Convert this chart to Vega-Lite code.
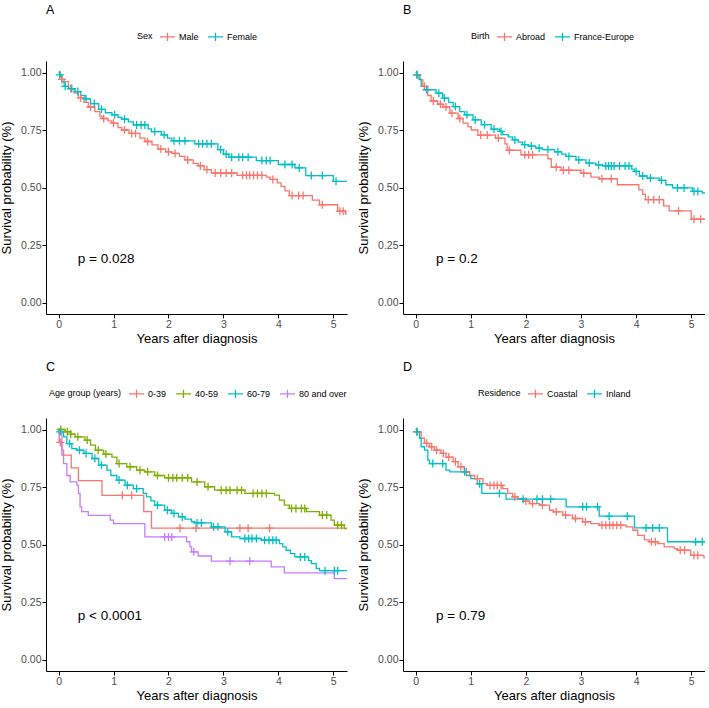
{
  "$schema": "https://vega.github.io/schema/vega-lite/v6.json",
  "padding": {"left": 0, "top": 3, "right": 0, "bottom": 0},
  "background": "white",
  "columns": 2,
  "spacing": {"row": 14, "column": 10},
  "resolve": {"scale": {"color": "independent"}},
  "datasets": {
    "A": [
      {"g":"Male","t":0,"s":1,"c":0},{"g":"Male","t":0.03,"s":0.98,"c":0},{"g":"Male","t":0.06,"s":0.97,"c":1},{"g":"Male","t":0.1,"s":0.96,"c":0},{"g":"Male","t":0.18,"s":0.93,"c":0},{"g":"Male","t":0.22,"s":0.93,"c":1},{"g":"Male","t":0.28,"s":0.91,"c":0},{"g":"Male","t":0.36,"s":0.89,"c":0},{"g":"Male","t":0.4,"s":0.89,"c":1},{"g":"Male","t":0.46,"s":0.87,"c":0},{"g":"Male","t":0.54,"s":0.85,"c":0},{"g":"Male","t":0.58,"s":0.85,"c":1},{"g":"Male","t":0.66,"s":0.83,"c":0},{"g":"Male","t":0.75,"s":0.81,"c":0},{"g":"Male","t":0.79,"s":0.8,"c":0},{"g":"Male","t":0.82,"s":0.8,"c":1},{"g":"Male","t":0.9,"s":0.79,"c":0},{"g":"Male","t":0.97,"s":0.78,"c":0},{"g":"Male","t":1.0,"s":0.78,"c":1},{"g":"Male","t":1.08,"s":0.76,"c":0},{"g":"Male","t":1.15,"s":0.75,"c":0},{"g":"Male","t":1.2,"s":0.75,"c":1},{"g":"Male","t":1.28,"s":0.735,"c":0},{"g":"Male","t":1.33,"s":0.735,"c":1},{"g":"Male","t":1.4,"s":0.735,"c":1},{"g":"Male","t":1.48,"s":0.715,"c":0},{"g":"Male","t":1.57,"s":0.7,"c":0},{"g":"Male","t":1.62,"s":0.7,"c":1},{"g":"Male","t":1.7,"s":0.685,"c":0},{"g":"Male","t":1.81,"s":0.667,"c":0},{"g":"Male","t":1.86,"s":0.667,"c":1},{"g":"Male","t":1.95,"s":0.655,"c":0},{"g":"Male","t":2.0,"s":0.655,"c":1},{"g":"Male","t":2.06,"s":0.648,"c":0},{"g":"Male","t":2.12,"s":0.648,"c":1},{"g":"Male","t":2.2,"s":0.635,"c":0},{"g":"Male","t":2.3,"s":0.62,"c":0},{"g":"Male","t":2.35,"s":0.62,"c":1},{"g":"Male","t":2.45,"s":0.605,"c":0},{"g":"Male","t":2.54,"s":0.594,"c":0},{"g":"Male","t":2.58,"s":0.594,"c":1},{"g":"Male","t":2.65,"s":0.578,"c":0},{"g":"Male","t":2.7,"s":0.578,"c":1},{"g":"Male","t":2.78,"s":0.563,"c":0},{"g":"Male","t":2.85,"s":0.563,"c":1},{"g":"Male","t":2.95,"s":0.563,"c":1},{"g":"Male","t":3.05,"s":0.563,"c":1},{"g":"Male","t":3.15,"s":0.563,"c":1},{"g":"Male","t":3.25,"s":0.553,"c":0},{"g":"Male","t":3.35,"s":0.553,"c":1},{"g":"Male","t":3.42,"s":0.553,"c":1},{"g":"Male","t":3.48,"s":0.553,"c":1},{"g":"Male","t":3.55,"s":0.553,"c":1},{"g":"Male","t":3.62,"s":0.553,"c":1},{"g":"Male","t":3.7,"s":0.553,"c":1},{"g":"Male","t":3.78,"s":0.545,"c":0},{"g":"Male","t":3.85,"s":0.535,"c":0},{"g":"Male","t":3.9,"s":0.535,"c":1},{"g":"Male","t":3.98,"s":0.52,"c":0},{"g":"Male","t":4.05,"s":0.505,"c":0},{"g":"Male","t":4.12,"s":0.485,"c":0},{"g":"Male","t":4.2,"s":0.465,"c":0},{"g":"Male","t":4.25,"s":0.465,"c":1},{"g":"Male","t":4.37,"s":0.465,"c":1},{"g":"Male","t":4.45,"s":0.465,"c":1},{"g":"Male","t":4.62,"s":0.445,"c":0},{"g":"Male","t":4.75,"s":0.425,"c":0},{"g":"Male","t":4.8,"s":0.425,"c":1},{"g":"Male","t":5.08,"s":0.397,"c":0},{"g":"Male","t":5.12,"s":0.397,"c":1},{"g":"Male","t":5.18,"s":0.397,"c":1},{"g":"Male","t":5.22,"s":0.385,"c":0},{"g":"Male","t":5.25,"s":0.385,"c":0},
      {"g":"Female","t":0,"s":1,"c":0},{"g":"Female","t":0.02,"s":0.99,"c":1},{"g":"Female","t":0.06,"s":0.96,"c":0},{"g":"Female","t":0.1,"s":0.94,"c":0},{"g":"Female","t":0.12,"s":0.94,"c":1},{"g":"Female","t":0.18,"s":0.93,"c":0},{"g":"Female","t":0.24,"s":0.93,"c":1},{"g":"Female","t":0.3,"s":0.917,"c":0},{"g":"Female","t":0.35,"s":0.917,"c":1},{"g":"Female","t":0.4,"s":0.9,"c":0},{"g":"Female","t":0.48,"s":0.885,"c":0},{"g":"Female","t":0.5,"s":0.885,"c":1},{"g":"Female","t":0.58,"s":0.865,"c":0},{"g":"Female","t":0.65,"s":0.865,"c":1},{"g":"Female","t":0.73,"s":0.84,"c":0},{"g":"Female","t":0.78,"s":0.84,"c":1},{"g":"Female","t":0.85,"s":0.825,"c":0},{"g":"Female","t":0.97,"s":0.816,"c":0},{"g":"Female","t":1.02,"s":0.816,"c":1},{"g":"Female","t":1.08,"s":0.805,"c":0},{"g":"Female","t":1.15,"s":0.797,"c":0},{"g":"Female","t":1.2,"s":0.797,"c":1},{"g":"Female","t":1.27,"s":0.785,"c":0},{"g":"Female","t":1.36,"s":0.772,"c":0},{"g":"Female","t":1.42,"s":0.772,"c":1},{"g":"Female","t":1.5,"s":0.772,"c":1},{"g":"Female","t":1.57,"s":0.772,"c":1},{"g":"Female","t":1.63,"s":0.755,"c":0},{"g":"Female","t":1.69,"s":0.743,"c":0},{"g":"Female","t":1.75,"s":0.743,"c":1},{"g":"Female","t":1.87,"s":0.729,"c":0},{"g":"Female","t":1.92,"s":0.729,"c":1},{"g":"Female","t":1.98,"s":0.715,"c":0},{"g":"Female","t":2.06,"s":0.703,"c":0},{"g":"Female","t":2.1,"s":0.703,"c":1},{"g":"Female","t":2.2,"s":0.703,"c":1},{"g":"Female","t":2.3,"s":0.703,"c":1},{"g":"Female","t":2.48,"s":0.69,"c":0},{"g":"Female","t":2.55,"s":0.69,"c":1},{"g":"Female","t":2.62,"s":0.69,"c":1},{"g":"Female","t":2.7,"s":0.69,"c":1},{"g":"Female","t":2.78,"s":0.69,"c":1},{"g":"Female","t":2.9,"s":0.665,"c":0},{"g":"Female","t":2.95,"s":0.665,"c":1},{"g":"Female","t":3.0,"s":0.645,"c":0},{"g":"Female","t":3.05,"s":0.645,"c":1},{"g":"Female","t":3.1,"s":0.632,"c":0},{"g":"Female","t":3.15,"s":0.632,"c":1},{"g":"Female","t":3.28,"s":0.632,"c":1},{"g":"Female","t":3.35,"s":0.632,"c":1},{"g":"Female","t":3.45,"s":0.632,"c":1},{"g":"Female","t":3.6,"s":0.617,"c":0},{"g":"Female","t":3.7,"s":0.617,"c":1},{"g":"Female","t":3.78,"s":0.617,"c":1},{"g":"Female","t":3.85,"s":0.617,"c":1},{"g":"Female","t":4.0,"s":0.6,"c":0},{"g":"Female","t":4.12,"s":0.6,"c":1},{"g":"Female","t":4.25,"s":0.6,"c":1},{"g":"Female","t":4.3,"s":0.585,"c":0},{"g":"Female","t":4.38,"s":0.585,"c":1},{"g":"Female","t":4.5,"s":0.552,"c":0},{"g":"Female","t":4.6,"s":0.552,"c":1},{"g":"Female","t":4.8,"s":0.552,"c":1},{"g":"Female","t":5.0,"s":0.527,"c":0},{"g":"Female","t":5.05,"s":0.527,"c":1},{"g":"Female","t":5.25,"s":0.527,"c":0}
    ],
    "B": [
      {"g":"Abroad","t":0,"s":1,"c":0},{"g":"Abroad","t":0.03,"s":0.99,"c":1},{"g":"Abroad","t":0.08,"s":0.968,"c":0},{"g":"Abroad","t":0.13,"s":0.94,"c":0},{"g":"Abroad","t":0.16,"s":0.94,"c":1},{"g":"Abroad","t":0.22,"s":0.9,"c":0},{"g":"Abroad","t":0.28,"s":0.876,"c":0},{"g":"Abroad","t":0.32,"s":0.876,"c":1},{"g":"Abroad","t":0.4,"s":0.862,"c":0},{"g":"Abroad","t":0.45,"s":0.862,"c":1},{"g":"Abroad","t":0.49,"s":0.85,"c":0},{"g":"Abroad","t":0.55,"s":0.85,"c":1},{"g":"Abroad","t":0.62,"s":0.823,"c":0},{"g":"Abroad","t":0.66,"s":0.823,"c":1},{"g":"Abroad","t":0.77,"s":0.8,"c":0},{"g":"Abroad","t":0.8,"s":0.8,"c":1},{"g":"Abroad","t":0.86,"s":0.78,"c":0},{"g":"Abroad","t":0.95,"s":0.765,"c":0},{"g":"Abroad","t":1.01,"s":0.75,"c":0},{"g":"Abroad","t":1.13,"s":0.728,"c":0},{"g":"Abroad","t":1.18,"s":0.728,"c":1},{"g":"Abroad","t":1.3,"s":0.728,"c":1},{"g":"Abroad","t":1.45,"s":0.715,"c":0},{"g":"Abroad","t":1.5,"s":0.715,"c":1},{"g":"Abroad","t":1.62,"s":0.69,"c":0},{"g":"Abroad","t":1.66,"s":0.662,"c":0},{"g":"Abroad","t":1.7,"s":0.662,"c":1},{"g":"Abroad","t":1.91,"s":0.642,"c":0},{"g":"Abroad","t":1.98,"s":0.642,"c":1},{"g":"Abroad","t":2.05,"s":0.642,"c":1},{"g":"Abroad","t":2.12,"s":0.642,"c":1},{"g":"Abroad","t":2.4,"s":0.625,"c":0},{"g":"Abroad","t":2.46,"s":0.588,"c":0},{"g":"Abroad","t":2.55,"s":0.588,"c":1},{"g":"Abroad","t":2.64,"s":0.575,"c":0},{"g":"Abroad","t":2.68,"s":0.575,"c":1},{"g":"Abroad","t":2.78,"s":0.575,"c":1},{"g":"Abroad","t":3.0,"s":0.562,"c":0},{"g":"Abroad","t":3.05,"s":0.562,"c":1},{"g":"Abroad","t":3.18,"s":0.545,"c":0},{"g":"Abroad","t":3.33,"s":0.538,"c":0},{"g":"Abroad","t":3.38,"s":0.538,"c":1},{"g":"Abroad","t":3.55,"s":0.538,"c":1},{"g":"Abroad","t":3.66,"s":0.512,"c":0},{"g":"Abroad","t":4.05,"s":0.49,"c":0},{"g":"Abroad","t":4.12,"s":0.47,"c":0},{"g":"Abroad","t":4.17,"s":0.447,"c":0},{"g":"Abroad","t":4.22,"s":0.447,"c":1},{"g":"Abroad","t":4.32,"s":0.447,"c":1},{"g":"Abroad","t":4.42,"s":0.447,"c":1},{"g":"Abroad","t":4.5,"s":0.42,"c":0},{"g":"Abroad","t":4.6,"s":0.398,"c":0},{"g":"Abroad","t":4.77,"s":0.398,"c":1},{"g":"Abroad","t":5.0,"s":0.362,"c":0},{"g":"Abroad","t":5.05,"s":0.362,"c":1},{"g":"Abroad","t":5.17,"s":0.362,"c":1},{"g":"Abroad","t":5.25,"s":0.362,"c":0},
      {"g":"France-Europe","t":0,"s":1,"c":0},{"g":"France-Europe","t":0.02,"s":0.99,"c":1},{"g":"France-Europe","t":0.06,"s":0.97,"c":0},{"g":"France-Europe","t":0.1,"s":0.94,"c":0},{"g":"France-Europe","t":0.16,"s":0.925,"c":0},{"g":"France-Europe","t":0.2,"s":0.925,"c":1},{"g":"France-Europe","t":0.37,"s":0.91,"c":0},{"g":"France-Europe","t":0.42,"s":0.91,"c":1},{"g":"France-Europe","t":0.49,"s":0.889,"c":0},{"g":"France-Europe","t":0.52,"s":0.889,"c":1},{"g":"France-Europe","t":0.6,"s":0.87,"c":0},{"g":"France-Europe","t":0.68,"s":0.852,"c":0},{"g":"France-Europe","t":0.72,"s":0.852,"c":1},{"g":"France-Europe","t":0.8,"s":0.83,"c":0},{"g":"France-Europe","t":0.89,"s":0.816,"c":0},{"g":"France-Europe","t":0.93,"s":0.816,"c":1},{"g":"France-Europe","t":1.04,"s":0.794,"c":0},{"g":"France-Europe","t":1.08,"s":0.794,"c":1},{"g":"France-Europe","t":1.19,"s":0.773,"c":0},{"g":"France-Europe","t":1.25,"s":0.773,"c":1},{"g":"France-Europe","t":1.37,"s":0.754,"c":0},{"g":"France-Europe","t":1.42,"s":0.754,"c":1},{"g":"France-Europe","t":1.52,"s":0.744,"c":0},{"g":"France-Europe","t":1.55,"s":0.744,"c":1},{"g":"France-Europe","t":1.58,"s":0.73,"c":0},{"g":"France-Europe","t":1.68,"s":0.72,"c":0},{"g":"France-Europe","t":1.76,"s":0.707,"c":0},{"g":"France-Europe","t":1.8,"s":0.707,"c":1},{"g":"France-Europe","t":1.86,"s":0.697,"c":0},{"g":"France-Europe","t":1.94,"s":0.686,"c":0},{"g":"France-Europe","t":1.98,"s":0.686,"c":1},{"g":"France-Europe","t":2.05,"s":0.68,"c":0},{"g":"France-Europe","t":2.1,"s":0.68,"c":1},{"g":"France-Europe","t":2.18,"s":0.671,"c":0},{"g":"France-Europe","t":2.24,"s":0.671,"c":1},{"g":"France-Europe","t":2.3,"s":0.665,"c":0},{"g":"France-Europe","t":2.4,"s":0.665,"c":1},{"g":"France-Europe","t":2.52,"s":0.655,"c":0},{"g":"France-Europe","t":2.58,"s":0.655,"c":1},{"g":"France-Europe","t":2.65,"s":0.645,"c":0},{"g":"France-Europe","t":2.73,"s":0.635,"c":0},{"g":"France-Europe","t":2.78,"s":0.635,"c":1},{"g":"France-Europe","t":2.91,"s":0.62,"c":0},{"g":"France-Europe","t":2.96,"s":0.62,"c":1},{"g":"France-Europe","t":3.09,"s":0.606,"c":0},{"g":"France-Europe","t":3.15,"s":0.606,"c":1},{"g":"France-Europe","t":3.27,"s":0.598,"c":0},{"g":"France-Europe","t":3.32,"s":0.598,"c":1},{"g":"France-Europe","t":3.39,"s":0.594,"c":0},{"g":"France-Europe","t":3.45,"s":0.594,"c":1},{"g":"France-Europe","t":3.5,"s":0.594,"c":1},{"g":"France-Europe","t":3.55,"s":0.594,"c":1},{"g":"France-Europe","t":3.6,"s":0.594,"c":1},{"g":"France-Europe","t":3.7,"s":0.594,"c":1},{"g":"France-Europe","t":3.8,"s":0.594,"c":1},{"g":"France-Europe","t":3.87,"s":0.594,"c":1},{"g":"France-Europe","t":3.92,"s":0.58,"c":0},{"g":"France-Europe","t":3.97,"s":0.57,"c":0},{"g":"France-Europe","t":4.0,"s":0.57,"c":1},{"g":"France-Europe","t":4.06,"s":0.55,"c":0},{"g":"France-Europe","t":4.12,"s":0.55,"c":1},{"g":"France-Europe","t":4.2,"s":0.541,"c":0},{"g":"France-Europe","t":4.26,"s":0.541,"c":1},{"g":"France-Europe","t":4.42,"s":0.531,"c":0},{"g":"France-Europe","t":4.46,"s":0.531,"c":1},{"g":"France-Europe","t":4.54,"s":0.512,"c":0},{"g":"France-Europe","t":4.66,"s":0.498,"c":0},{"g":"France-Europe","t":4.75,"s":0.498,"c":1},{"g":"France-Europe","t":4.87,"s":0.498,"c":1},{"g":"France-Europe","t":5.02,"s":0.483,"c":0},{"g":"France-Europe","t":5.05,"s":0.483,"c":1},{"g":"France-Europe","t":5.12,"s":0.483,"c":1},{"g":"France-Europe","t":5.2,"s":0.476,"c":0},{"g":"France-Europe","t":5.25,"s":0.476,"c":0}
    ],
    "C": [
      {"g":"0-39","t":0,"s":1,"c":0},{"g":"0-39","t":0.01,"s":0.944,"c":0},{"g":"0-39","t":0.03,"s":0.944,"c":1},{"g":"0-39","t":0.06,"s":0.889,"c":0},{"g":"0-39","t":0.23,"s":0.833,"c":0},{"g":"0-39","t":0.36,"s":0.778,"c":0},{"g":"0-39","t":0.79,"s":0.714,"c":0},{"g":"0-39","t":1.16,"s":0.714,"c":1},{"g":"0-39","t":1.33,"s":0.714,"c":1},{"g":"0-39","t":1.55,"s":0.643,"c":0},{"g":"0-39","t":1.69,"s":0.571,"c":0},{"g":"0-39","t":2.21,"s":0.571,"c":1},{"g":"0-39","t":2.5,"s":0.571,"c":1},{"g":"0-39","t":3.3,"s":0.571,"c":1},{"g":"0-39","t":3.45,"s":0.571,"c":1},{"g":"0-39","t":3.84,"s":0.571,"c":1},{"g":"0-39","t":5.25,"s":0.571,"c":0},
      {"g":"40-59","t":0,"s":1,"c":0},{"g":"40-59","t":0.04,"s":1,"c":1},{"g":"40-59","t":0.12,"s":0.99,"c":0},{"g":"40-59","t":0.16,"s":0.99,"c":1},{"g":"40-59","t":0.22,"s":0.98,"c":1},{"g":"40-59","t":0.3,"s":0.968,"c":0},{"g":"40-59","t":0.35,"s":0.968,"c":1},{"g":"40-59","t":0.48,"s":0.954,"c":0},{"g":"40-59","t":0.52,"s":0.954,"c":1},{"g":"40-59","t":0.58,"s":0.932,"c":0},{"g":"40-59","t":0.67,"s":0.91,"c":0},{"g":"40-59","t":0.72,"s":0.91,"c":1},{"g":"40-59","t":0.82,"s":0.893,"c":0},{"g":"40-59","t":0.86,"s":0.893,"c":1},{"g":"40-59","t":0.97,"s":0.88,"c":0},{"g":"40-59","t":1.06,"s":0.852,"c":0},{"g":"40-59","t":1.1,"s":0.852,"c":1},{"g":"40-59","t":1.24,"s":0.838,"c":0},{"g":"40-59","t":1.3,"s":0.838,"c":1},{"g":"40-59","t":1.42,"s":0.823,"c":0},{"g":"40-59","t":1.48,"s":0.823,"c":1},{"g":"40-59","t":1.57,"s":0.816,"c":0},{"g":"40-59","t":1.62,"s":0.816,"c":1},{"g":"40-59","t":1.75,"s":0.8,"c":0},{"g":"40-59","t":1.8,"s":0.8,"c":1},{"g":"40-59","t":1.93,"s":0.79,"c":0},{"g":"40-59","t":2.0,"s":0.79,"c":1},{"g":"40-59","t":2.08,"s":0.79,"c":1},{"g":"40-59","t":2.15,"s":0.79,"c":1},{"g":"40-59","t":2.25,"s":0.79,"c":1},{"g":"40-59","t":2.35,"s":0.79,"c":1},{"g":"40-59","t":2.42,"s":0.772,"c":0},{"g":"40-59","t":2.52,"s":0.772,"c":1},{"g":"40-59","t":2.66,"s":0.751,"c":0},{"g":"40-59","t":2.72,"s":0.751,"c":1},{"g":"40-59","t":2.84,"s":0.736,"c":0},{"g":"40-59","t":2.96,"s":0.736,"c":1},{"g":"40-59","t":3.05,"s":0.736,"c":1},{"g":"40-59","t":3.12,"s":0.736,"c":1},{"g":"40-59","t":3.25,"s":0.736,"c":1},{"g":"40-59","t":3.33,"s":0.736,"c":1},{"g":"40-59","t":3.39,"s":0.722,"c":0},{"g":"40-59","t":3.54,"s":0.722,"c":1},{"g":"40-59","t":3.62,"s":0.722,"c":1},{"g":"40-59","t":3.7,"s":0.722,"c":1},{"g":"40-59","t":3.78,"s":0.722,"c":1},{"g":"40-59","t":3.93,"s":0.715,"c":0},{"g":"40-59","t":4.02,"s":0.693,"c":0},{"g":"40-59","t":4.11,"s":0.671,"c":0},{"g":"40-59","t":4.2,"s":0.657,"c":0},{"g":"40-59","t":4.24,"s":0.657,"c":1},{"g":"40-59","t":4.32,"s":0.657,"c":1},{"g":"40-59","t":4.42,"s":0.657,"c":1},{"g":"40-59","t":4.48,"s":0.657,"c":1},{"g":"40-59","t":4.51,"s":0.643,"c":0},{"g":"40-59","t":4.75,"s":0.628,"c":0},{"g":"40-59","t":4.8,"s":0.628,"c":1},{"g":"40-59","t":4.88,"s":0.628,"c":1},{"g":"40-59","t":4.96,"s":0.606,"c":0},{"g":"40-59","t":5.02,"s":0.584,"c":0},{"g":"40-59","t":5.08,"s":0.584,"c":1},{"g":"40-59","t":5.15,"s":0.584,"c":1},{"g":"40-59","t":5.2,"s":0.569,"c":0},{"g":"40-59","t":5.25,"s":0.569,"c":0},
      {"g":"60-79","t":0,"s":1,"c":0},{"g":"60-79","t":0.03,"s":0.99,"c":1},{"g":"60-79","t":0.09,"s":0.968,"c":0},{"g":"60-79","t":0.15,"s":0.939,"c":0},{"g":"60-79","t":0.2,"s":0.939,"c":1},{"g":"60-79","t":0.24,"s":0.917,"c":0},{"g":"60-79","t":0.33,"s":0.91,"c":0},{"g":"60-79","t":0.38,"s":0.91,"c":1},{"g":"60-79","t":0.46,"s":0.896,"c":0},{"g":"60-79","t":0.5,"s":0.896,"c":1},{"g":"60-79","t":0.61,"s":0.874,"c":0},{"g":"60-79","t":0.66,"s":0.874,"c":1},{"g":"60-79","t":0.73,"s":0.845,"c":0},{"g":"60-79","t":0.78,"s":0.845,"c":1},{"g":"60-79","t":0.88,"s":0.823,"c":0},{"g":"60-79","t":0.95,"s":0.8,"c":0},{"g":"60-79","t":1.06,"s":0.78,"c":0},{"g":"60-79","t":1.1,"s":0.78,"c":1},{"g":"60-79","t":1.21,"s":0.758,"c":0},{"g":"60-79","t":1.25,"s":0.758,"c":1},{"g":"60-79","t":1.36,"s":0.743,"c":0},{"g":"60-79","t":1.42,"s":0.743,"c":1},{"g":"60-79","t":1.54,"s":0.722,"c":0},{"g":"60-79","t":1.6,"s":0.707,"c":0},{"g":"60-79","t":1.68,"s":0.69,"c":0},{"g":"60-79","t":1.75,"s":0.671,"c":0},{"g":"60-79","t":1.8,"s":0.671,"c":1},{"g":"60-79","t":1.93,"s":0.649,"c":0},{"g":"60-79","t":1.98,"s":0.649,"c":1},{"g":"60-79","t":2.06,"s":0.635,"c":0},{"g":"60-79","t":2.1,"s":0.635,"c":1},{"g":"60-79","t":2.18,"s":0.62,"c":0},{"g":"60-79","t":2.25,"s":0.62,"c":1},{"g":"60-79","t":2.3,"s":0.61,"c":0},{"g":"60-79","t":2.42,"s":0.599,"c":0},{"g":"60-79","t":2.48,"s":0.594,"c":0},{"g":"60-79","t":2.52,"s":0.594,"c":1},{"g":"60-79","t":2.6,"s":0.594,"c":1},{"g":"60-79","t":2.78,"s":0.577,"c":0},{"g":"60-79","t":2.82,"s":0.577,"c":1},{"g":"60-79","t":2.9,"s":0.577,"c":1},{"g":"60-79","t":3.03,"s":0.555,"c":0},{"g":"60-79","t":3.08,"s":0.555,"c":1},{"g":"60-79","t":3.15,"s":0.533,"c":0},{"g":"60-79","t":3.3,"s":0.526,"c":0},{"g":"60-79","t":3.39,"s":0.526,"c":1},{"g":"60-79","t":3.46,"s":0.526,"c":1},{"g":"60-79","t":3.52,"s":0.526,"c":1},{"g":"60-79","t":3.6,"s":0.526,"c":1},{"g":"60-79","t":3.69,"s":0.519,"c":0},{"g":"60-79","t":3.75,"s":0.519,"c":1},{"g":"60-79","t":3.83,"s":0.519,"c":1},{"g":"60-79","t":3.9,"s":0.519,"c":1},{"g":"60-79","t":3.96,"s":0.519,"c":1},{"g":"60-79","t":4.02,"s":0.504,"c":0},{"g":"60-79","t":4.08,"s":0.49,"c":0},{"g":"60-79","t":4.14,"s":0.475,"c":0},{"g":"60-79","t":4.22,"s":0.46,"c":0},{"g":"60-79","t":4.3,"s":0.446,"c":0},{"g":"60-79","t":4.4,"s":0.446,"c":1},{"g":"60-79","t":4.48,"s":0.446,"c":1},{"g":"60-79","t":4.55,"s":0.43,"c":0},{"g":"60-79","t":4.6,"s":0.417,"c":0},{"g":"60-79","t":4.69,"s":0.396,"c":0},{"g":"60-79","t":4.75,"s":0.386,"c":0},{"g":"60-79","t":4.85,"s":0.386,"c":1},{"g":"60-79","t":5.02,"s":0.386,"c":1},{"g":"60-79","t":5.08,"s":0.386,"c":1},{"g":"60-79","t":5.25,"s":0.386,"c":0},
      {"g":"80 and over","t":0,"s":1,"c":0},{"g":"80 and over","t":0.01,"s":0.983,"c":0},{"g":"80 and over","t":0.06,"s":0.91,"c":0},{"g":"80 and over","t":0.09,"s":0.852,"c":0},{"g":"80 and over","t":0.15,"s":0.8,"c":0},{"g":"80 and over","t":0.21,"s":0.772,"c":0},{"g":"80 and over","t":0.33,"s":0.758,"c":0},{"g":"80 and over","t":0.36,"s":0.722,"c":0},{"g":"80 and over","t":0.39,"s":0.664,"c":0},{"g":"80 and over","t":0.42,"s":0.643,"c":0},{"g":"80 and over","t":0.54,"s":0.627,"c":0},{"g":"80 and over","t":0.94,"s":0.606,"c":0},{"g":"80 and over","t":1.0,"s":0.591,"c":0},{"g":"80 and over","t":1.57,"s":0.533,"c":0},{"g":"80 and over","t":1.93,"s":0.533,"c":1},{"g":"80 and over","t":2.0,"s":0.533,"c":1},{"g":"80 and over","t":2.06,"s":0.533,"c":1},{"g":"80 and over","t":2.33,"s":0.512,"c":0},{"g":"80 and over","t":2.39,"s":0.49,"c":0},{"g":"80 and over","t":2.42,"s":0.468,"c":0},{"g":"80 and over","t":2.46,"s":0.468,"c":1},{"g":"80 and over","t":2.54,"s":0.45,"c":0},{"g":"80 and over","t":2.78,"s":0.428,"c":0},{"g":"80 and over","t":3.12,"s":0.428,"c":1},{"g":"80 and over","t":3.48,"s":0.428,"c":1},{"g":"80 and over","t":3.87,"s":0.403,"c":0},{"g":"80 and over","t":4.11,"s":0.377,"c":0},{"g":"80 and over","t":5.02,"s":0.352,"c":0},{"g":"80 and over","t":5.25,"s":0.352,"c":0}
    ],
    "D": [
      {"g":"Coastal","t":0,"s":1,"c":0},{"g":"Coastal","t":0.03,"s":0.99,"c":1},{"g":"Coastal","t":0.1,"s":0.962,"c":0},{"g":"Coastal","t":0.16,"s":0.94,"c":0},{"g":"Coastal","t":0.2,"s":0.94,"c":1},{"g":"Coastal","t":0.25,"s":0.925,"c":0},{"g":"Coastal","t":0.29,"s":0.925,"c":1},{"g":"Coastal","t":0.34,"s":0.91,"c":0},{"g":"Coastal","t":0.38,"s":0.91,"c":1},{"g":"Coastal","t":0.46,"s":0.896,"c":0},{"g":"Coastal","t":0.5,"s":0.896,"c":1},{"g":"Coastal","t":0.55,"s":0.88,"c":0},{"g":"Coastal","t":0.6,"s":0.88,"c":1},{"g":"Coastal","t":0.68,"s":0.86,"c":0},{"g":"Coastal","t":0.72,"s":0.86,"c":1},{"g":"Coastal","t":0.77,"s":0.838,"c":0},{"g":"Coastal","t":0.82,"s":0.838,"c":1},{"g":"Coastal","t":0.88,"s":0.816,"c":0},{"g":"Coastal","t":0.92,"s":0.816,"c":1},{"g":"Coastal","t":0.98,"s":0.8,"c":0},{"g":"Coastal","t":1.07,"s":0.786,"c":0},{"g":"Coastal","t":1.12,"s":0.786,"c":1},{"g":"Coastal","t":1.22,"s":0.765,"c":0},{"g":"Coastal","t":1.3,"s":0.757,"c":0},{"g":"Coastal","t":1.35,"s":0.757,"c":1},{"g":"Coastal","t":1.42,"s":0.757,"c":1},{"g":"Coastal","t":1.48,"s":0.757,"c":1},{"g":"Coastal","t":1.55,"s":0.757,"c":1},{"g":"Coastal","t":1.58,"s":0.743,"c":0},{"g":"Coastal","t":1.67,"s":0.722,"c":0},{"g":"Coastal","t":1.76,"s":0.707,"c":0},{"g":"Coastal","t":1.8,"s":0.707,"c":1},{"g":"Coastal","t":1.85,"s":0.7,"c":0},{"g":"Coastal","t":1.94,"s":0.688,"c":0},{"g":"Coastal","t":2.0,"s":0.688,"c":1},{"g":"Coastal","t":2.07,"s":0.678,"c":0},{"g":"Coastal","t":2.12,"s":0.678,"c":1},{"g":"Coastal","t":2.25,"s":0.671,"c":0},{"g":"Coastal","t":2.3,"s":0.671,"c":1},{"g":"Coastal","t":2.43,"s":0.649,"c":0},{"g":"Coastal","t":2.5,"s":0.642,"c":0},{"g":"Coastal","t":2.55,"s":0.642,"c":1},{"g":"Coastal","t":2.67,"s":0.628,"c":0},{"g":"Coastal","t":2.72,"s":0.628,"c":1},{"g":"Coastal","t":2.85,"s":0.613,"c":0},{"g":"Coastal","t":2.9,"s":0.613,"c":1},{"g":"Coastal","t":3.03,"s":0.599,"c":0},{"g":"Coastal","t":3.08,"s":0.599,"c":1},{"g":"Coastal","t":3.18,"s":0.591,"c":0},{"g":"Coastal","t":3.33,"s":0.584,"c":0},{"g":"Coastal","t":3.38,"s":0.584,"c":1},{"g":"Coastal","t":3.45,"s":0.584,"c":1},{"g":"Coastal","t":3.52,"s":0.584,"c":1},{"g":"Coastal","t":3.58,"s":0.584,"c":1},{"g":"Coastal","t":3.65,"s":0.584,"c":1},{"g":"Coastal","t":3.72,"s":0.584,"c":1},{"g":"Coastal","t":3.82,"s":0.577,"c":0},{"g":"Coastal","t":3.94,"s":0.562,"c":0},{"g":"Coastal","t":4.03,"s":0.54,"c":0},{"g":"Coastal","t":4.15,"s":0.52,"c":0},{"g":"Coastal","t":4.24,"s":0.512,"c":0},{"g":"Coastal","t":4.28,"s":0.512,"c":1},{"g":"Coastal","t":4.35,"s":0.512,"c":1},{"g":"Coastal","t":4.39,"s":0.504,"c":0},{"g":"Coastal","t":4.51,"s":0.49,"c":0},{"g":"Coastal","t":4.69,"s":0.482,"c":0},{"g":"Coastal","t":4.75,"s":0.475,"c":0},{"g":"Coastal","t":4.8,"s":0.475,"c":1},{"g":"Coastal","t":4.88,"s":0.475,"c":1},{"g":"Coastal","t":4.99,"s":0.453,"c":0},{"g":"Coastal","t":5.05,"s":0.453,"c":1},{"g":"Coastal","t":5.12,"s":0.453,"c":1},{"g":"Coastal","t":5.23,"s":0.443,"c":0},{"g":"Coastal","t":5.25,"s":0.443,"c":0},
      {"g":"Inland","t":0,"s":1,"c":0},{"g":"Inland","t":0.02,"s":0.99,"c":1},{"g":"Inland","t":0.07,"s":0.962,"c":0},{"g":"Inland","t":0.1,"s":0.925,"c":0},{"g":"Inland","t":0.16,"s":0.91,"c":0},{"g":"Inland","t":0.22,"s":0.867,"c":0},{"g":"Inland","t":0.25,"s":0.852,"c":0},{"g":"Inland","t":0.31,"s":0.852,"c":1},{"g":"Inland","t":0.49,"s":0.852,"c":1},{"g":"Inland","t":0.55,"s":0.823,"c":0},{"g":"Inland","t":0.62,"s":0.816,"c":0},{"g":"Inland","t":0.89,"s":0.816,"c":1},{"g":"Inland","t":0.92,"s":0.8,"c":0},{"g":"Inland","t":1.0,"s":0.786,"c":0},{"g":"Inland","t":1.12,"s":0.764,"c":0},{"g":"Inland","t":1.16,"s":0.764,"c":1},{"g":"Inland","t":1.2,"s":0.722,"c":0},{"g":"Inland","t":1.52,"s":0.722,"c":1},{"g":"Inland","t":1.64,"s":0.697,"c":0},{"g":"Inland","t":1.95,"s":0.697,"c":1},{"g":"Inland","t":2.2,"s":0.697,"c":1},{"g":"Inland","t":2.3,"s":0.697,"c":1},{"g":"Inland","t":2.45,"s":0.697,"c":1},{"g":"Inland","t":2.73,"s":0.664,"c":0},{"g":"Inland","t":3.03,"s":0.664,"c":1},{"g":"Inland","t":3.1,"s":0.664,"c":1},{"g":"Inland","t":3.3,"s":0.664,"c":1},{"g":"Inland","t":3.33,"s":0.623,"c":0},{"g":"Inland","t":3.51,"s":0.623,"c":1},{"g":"Inland","t":3.84,"s":0.623,"c":1},{"g":"Inland","t":3.97,"s":0.572,"c":0},{"g":"Inland","t":4.18,"s":0.572,"c":1},{"g":"Inland","t":4.3,"s":0.572,"c":1},{"g":"Inland","t":4.42,"s":0.572,"c":1},{"g":"Inland","t":4.57,"s":0.512,"c":0},{"g":"Inland","t":5.08,"s":0.512,"c":1},{"g":"Inland","t":5.2,"s":0.512,"c":1},{"g":"Inland","t":5.25,"s":0.512,"c":0}
    ]
  },
  "concat": [
    {
      "width": 301, "height": 253,
      "title": {"text": "A"},
      "data": {"name": "A"},
      "layer": [
        {"mark": {"type": "line", "interpolate": "step-after", "strokeWidth": 1.3, "clip": true},
         "encoding": {
           "x": {"field": "t", "type": "quantitative", "scale": {"domain": [-0.23, 5.25], "nice": false, "zero": false}, "title": "Years after diagnosis", "axis": {"values": [0, 1, 2, 3, 4, 5], "format": "d"}},
           "y": {"field": "s", "type": "quantitative", "scale": {"domain": [-0.05, 1.05], "nice": false, "zero": false}, "title": "Survival probability (%)", "axis": {"values": [0, 0.25, 0.5, 0.75, 1], "format": ".2f"}},
           "color": {"field": "g", "type": "nominal", "scale": {"domain": ["Male", "Female"], "range": ["#F8766D", "#00BFC4"]}, "legend": {"title": "Sex", "legendX": 91, "legendY": -33}}}},
        {"transform": [{"filter": "datum.c == 1"}],
         "mark": {"type": "point", "shape": "M-1,0H1M0,-1V1", "size": 64, "filled": false, "strokeWidth": 1.3, "opacity": 1, "clip": true},
         "encoding": {"x": {"field": "t", "type": "quantitative"}, "y": {"field": "s", "type": "quantitative"}, "color": {"field": "g", "type": "nominal"}}},
        {"data": {"values": [{"p": "p = 0.028"}]},
         "mark": {"type": "text", "align": "left", "baseline": "middle", "fontSize": 13.5, "color": "black"},
         "encoding": {"x": {"datum": 0.35}, "y": {"datum": 0.19}, "text": {"field": "p"}}}
      ]
    },
    {
      "width": 302, "height": 253,
      "title": {"text": "B"},
      "data": {"name": "B"},
      "layer": [
        {"mark": {"type": "line", "interpolate": "step-after", "strokeWidth": 1.3, "clip": true},
         "encoding": {
           "x": {"field": "t", "type": "quantitative", "scale": {"domain": [-0.23, 5.25], "nice": false, "zero": false}, "title": "Years after diagnosis", "axis": {"values": [0, 1, 2, 3, 4, 5], "format": "d"}},
           "y": {"field": "s", "type": "quantitative", "scale": {"domain": [-0.05, 1.05], "nice": false, "zero": false}, "title": "Survival probability (%)", "axis": {"values": [0, 0.25, 0.5, 0.75, 1], "format": ".2f"}},
           "color": {"field": "g", "type": "nominal", "scale": {"domain": ["Abroad", "France-Europe"], "range": ["#F8766D", "#00BFC4"]}, "legend": {"title": "Birth", "legendX": 68, "legendY": -33}}}},
        {"transform": [{"filter": "datum.c == 1"}],
         "mark": {"type": "point", "shape": "M-1,0H1M0,-1V1", "size": 64, "filled": false, "strokeWidth": 1.3, "opacity": 1, "clip": true},
         "encoding": {"x": {"field": "t", "type": "quantitative"}, "y": {"field": "s", "type": "quantitative"}, "color": {"field": "g", "type": "nominal"}}},
        {"data": {"values": [{"p": "p = 0.2"}]},
         "mark": {"type": "text", "align": "left", "baseline": "middle", "fontSize": 13.5, "color": "black"},
         "encoding": {"x": {"datum": 0.37}, "y": {"datum": 0.19}, "text": {"field": "p"}}}
      ]
    },
    {
      "width": 301, "height": 253,
      "title": {"text": "C"},
      "data": {"name": "C"},
      "layer": [
        {"mark": {"type": "line", "interpolate": "step-after", "strokeWidth": 1.3, "clip": true},
         "encoding": {
           "x": {"field": "t", "type": "quantitative", "scale": {"domain": [-0.23, 5.25], "nice": false, "zero": false}, "title": "Years after diagnosis", "axis": {"values": [0, 1, 2, 3, 4, 5], "format": "d"}},
           "y": {"field": "s", "type": "quantitative", "scale": {"domain": [-0.05, 1.05], "nice": false, "zero": false}, "title": "Survival probability (%)", "axis": {"values": [0, 0.25, 0.5, 0.75, 1], "format": ".2f"}},
           "color": {"field": "g", "type": "nominal", "scale": {"domain": ["0-39", "40-59", "60-79", "80 and over"], "range": ["#F8766D", "#7CAE00", "#00BFC4", "#C77CFF"]}, "legend": {"title": "Age group (years)", "legendX": 3, "legendY": -33}}}},
        {"transform": [{"filter": "datum.c == 1"}],
         "mark": {"type": "point", "shape": "M-1,0H1M0,-1V1", "size": 64, "filled": false, "strokeWidth": 1.3, "opacity": 1, "clip": true},
         "encoding": {"x": {"field": "t", "type": "quantitative"}, "y": {"field": "s", "type": "quantitative"}, "color": {"field": "g", "type": "nominal"}}},
        {"data": {"values": [{"p": "p < 0.0001"}]},
         "mark": {"type": "text", "align": "left", "baseline": "middle", "fontSize": 13.5, "color": "black"},
         "encoding": {"x": {"datum": 0.35}, "y": {"datum": 0.19}, "text": {"field": "p"}}}
      ]
    },
    {
      "width": 302, "height": 253,
      "title": {"text": "D"},
      "data": {"name": "D"},
      "layer": [
        {"mark": {"type": "line", "interpolate": "step-after", "strokeWidth": 1.3, "clip": true},
         "encoding": {
           "x": {"field": "t", "type": "quantitative", "scale": {"domain": [-0.23, 5.25], "nice": false, "zero": false}, "title": "Years after diagnosis", "axis": {"values": [0, 1, 2, 3, 4, 5], "format": "d"}},
           "y": {"field": "s", "type": "quantitative", "scale": {"domain": [-0.05, 1.05], "nice": false, "zero": false}, "title": "Survival probability (%)", "axis": {"values": [0, 0.25, 0.5, 0.75, 1], "format": ".2f"}},
           "color": {"field": "g", "type": "nominal", "scale": {"domain": ["Coastal", "Inland"], "range": ["#F8766D", "#00BFC4"]}, "legend": {"title": "Residence", "legendX": 75, "legendY": -33}}}},
        {"transform": [{"filter": "datum.c == 1"}],
         "mark": {"type": "point", "shape": "M-1,0H1M0,-1V1", "size": 64, "filled": false, "strokeWidth": 1.3, "opacity": 1, "clip": true},
         "encoding": {"x": {"field": "t", "type": "quantitative"}, "y": {"field": "s", "type": "quantitative"}, "color": {"field": "g", "type": "nominal"}}},
        {"data": {"values": [{"p": "p = 0.79"}]},
         "mark": {"type": "text", "align": "left", "baseline": "middle", "fontSize": 13.5, "color": "black"},
         "encoding": {"x": {"datum": 0.37}, "y": {"datum": 0.19}, "text": {"field": "p"}}}
      ]
    }
  ],
  "config": {
    "font": "Liberation Sans",
    "view": {"stroke": null},
    "title": {"fontSize": 12.5, "fontWeight": "normal", "anchor": "start", "frame": "group", "offset": 12, "color": "black"},
    "axis": {"grid": false, "domainColor": "black", "domainWidth": 1, "tickColor": "black", "tickSize": 4, "tickWidth": 1, "labelColor": "#4D4D4D", "labelFontSize": 10.5, "labelPadding": 1, "titleFontSize": 13, "titleFontWeight": "normal", "titleColor": "black", "labelFlush": false},
    "axisX": {"titlePadding": 3},
    "axisY": {"titlePadding": 7},
    "legend": {"orient": "none", "direction": "horizontal", "titleOrient": "left", "titleFontSize": 9, "titleFontWeight": "normal", "titleColor": "black", "titlePadding": 6, "titleBaseline": "middle", "titleAnchor": "middle", "labelFontSize": 9, "labelColor": "black", "labelOffset": 3, "columnPadding": 6, "symbolType": "M-1,0H1M0,-0.55V0.55", "symbolSize": 225, "symbolStrokeWidth": 1.3, "symbolFillColor": "transparent"}
  }
}
